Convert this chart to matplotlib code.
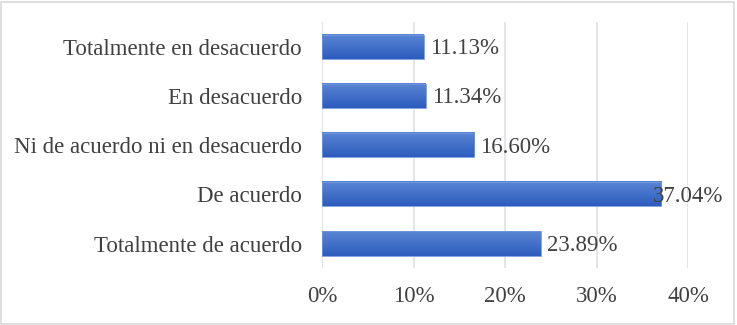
import numpy as np
import matplotlib
matplotlib.use("Agg")
from matplotlib import pyplot as plt
from matplotlib.patches import Rectangle
from matplotlib.colors import LinearSegmentedColormap

categorias = ["Totalmente en desacuerdo", "En desacuerdo",
              "Ni de acuerdo ni en desacuerdo", "De acuerdo",
              "Totalmente de acuerdo"]
porcentajes = [11.13, 11.34, 16.60, 37.04, 23.89]
ticks = [0, 10, 20, 30, 40]

plt.rcParams["font.family"] = ["Liberation Serif", "DejaVu Serif"]
texto = "#404040"
tam = 16.5

fig = plt.figure(figsize=(7.37, 3.25), dpi=100)
ax = fig.add_axes([0.437, 0.175, 0.497, 0.757])

# degradado vertical para las barras (claro arriba, oscuro abajo)
cmap = LinearSegmentedColormap.from_list("azul", ["#5b86d5", "#2c5cbd"])
grad = np.linspace(0, 1, 64).reshape(-1, 1)

y = np.arange(len(categorias))
alto = 0.49
bars = ax.barh(y, porcentajes, height=alto, color="none", edgecolor="none")
for b in bars:
    x0, y0 = b.get_x(), b.get_y()
    w, h = b.get_width(), b.get_height()
    ax.imshow(grad, cmap=cmap, aspect="auto", origin="upper",
              extent=[x0, x0 + w, y0 + h, y0], zorder=3)
    ax.add_patch(Rectangle((x0, y0), w, h, fill=False,
                           edgecolor="#7096da", linewidth=0.6, zorder=4))

# etiquetas de datos (la de 37.04% queda montada sobre la barra como en Excel)
for i, v in enumerate(porcentajes):
    dx = -6 if v > 35 else 4.5
    ax.annotate("{:.2f}%".format(v), (v, i), xytext=(dx, -1.5),
                textcoords="offset points", va="center", ha="left",
                fontsize=tam, color=texto, zorder=5)

ax.set_xlim(0, 40)
ax.set_ylim(len(categorias) - 0.5, -0.5)
ax.set_yticks(y)
ax.set_yticklabels(categorias)
ax.set_xticks(ticks)
ax.set_xticklabels(["{}%".format(t) for t in ticks])
ax.tick_params(axis="both", length=0, labelsize=tam, labelcolor=texto)
ax.tick_params(axis="y", pad=14.5)
ax.tick_params(axis="x", pad=13)
ax.grid(axis="x", color="#dde1e8", linewidth=1.2, zorder=0)
ax.set_axisbelow(True)
for s in ax.spines.values():
    s.set_visible(False)

fig.patches.append(Rectangle((0.002, 0.004), 0.994, 0.99, transform=fig.transFigure,
                             fill=False, edgecolor="#d9d9d9", linewidth=1.2))

fig.savefig("out.png", dpi=100)
